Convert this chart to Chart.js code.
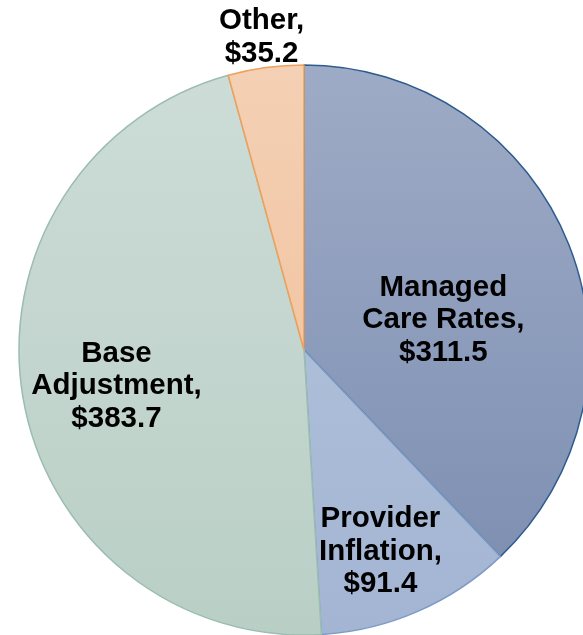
<!DOCTYPE html>
<html>
<head>
<meta charset="utf-8">
<script src="https://cdn.jsdelivr.net/npm/chart.js@4"></script>
<style>
  html, body { margin: 0; padding: 0; background: #fff; overflow: hidden; }
  #wrap { position: relative; width: 583px; height: 635px; }
</style>
</head>
<body>
<div id="wrap"><canvas id="pie"></canvas></div>
<script>
// Data ($ millions)
const labels = [['Managed', 'Care Rates,'], ['Provider', 'Inflation,'], ['Base', 'Adjustment,'], ['Other,']];
const values = [311.5, 91.4, 383.7, 35.2];

// Slice colours: top / bottom of gradient, border
const topColors = ['#9eabc6', '#b7c6de', '#cddcd7', '#f4d0b4'];
const bottomColors = ['#7a8cb0', '#a3b5d3', '#b9cfc6', '#efbc94'];
const borderColors = ['#2f5c8f', '#7e9bc5', '#9bbdb1', '#eda15a'];

const pieRadius = 285;

// Label placement: fraction of the radius along the slice middle, plus a small nudge
const labelRadius = [0.5, 0.76, 0.66, 1.11];
const labelNudge = [[7, 23], [-10, 3], [-2, 5], [0, 1]];

function sliceGradient(context) {
    const chart = context.chart;
    const area = chart.chartArea;
    if (!area) return topColors[context.dataIndex];
    const cy = (area.top + area.bottom) / 2;
    if (!Number.isFinite(cy)) return topColors[context.dataIndex];
    const g = chart.ctx.createLinearGradient(0, cy - pieRadius, 0, cy + pieRadius);
    g.addColorStop(0, topColors[context.dataIndex]);
    g.addColorStop(1, bottomColors[context.dataIndex]);
    return g;
}

const labelPlugin = {
    id: 'sliceLabels',
    afterDatasetsDraw(chart) {
        const ctx = chart.ctx;
        const meta = chart.getDatasetMeta(0);
        ctx.save();
        ctx.font = 'bold 29.5px "Liberation Sans", Arial, sans-serif';
        ctx.fillStyle = '#000';
        ctx.textAlign = 'center';
        ctx.textBaseline = 'middle';
        meta.data.forEach((arc, i) => {
            const p = arc.getProps(['x', 'y', 'startAngle', 'endAngle', 'outerRadius'], true);
            const mid = (p.startAngle + p.endAngle) / 2;
            const cx = p.x + Math.cos(mid) * p.outerRadius * labelRadius[i] + labelNudge[i][0];
            const cy = p.y + Math.sin(mid) * p.outerRadius * labelRadius[i] + labelNudge[i][1];
            const lines = labels[i].concat(['$' + values[i].toFixed(1)]);
            const lh = 32.5;
            lines.forEach((line, j) => {
                ctx.fillText(line, cx, cy + (j - (lines.length - 1) / 2) * lh);
            });
        });
        ctx.restore();
    }
};

new Chart(document.getElementById('pie'), {
    type: 'pie',
    data: {
        labels: labels.map(l => l.join(' ')),
        datasets: [{
            data: values,
            backgroundColor: sliceGradient,
            borderColor: borderColors,
            borderWidth: 1.5
        }]
    },
    options: {
        responsive: true,
        maintainAspectRatio: false,
        animation: false,
        radius: pieRadius,
        layout: { padding: { left: 25, top: 65, right: 0, bottom: 0 } },
        plugins: {
            legend: { display: false },
            tooltip: { enabled: false }
        }
    },
    plugins: [labelPlugin]
});
</script>
</body>
</html>
